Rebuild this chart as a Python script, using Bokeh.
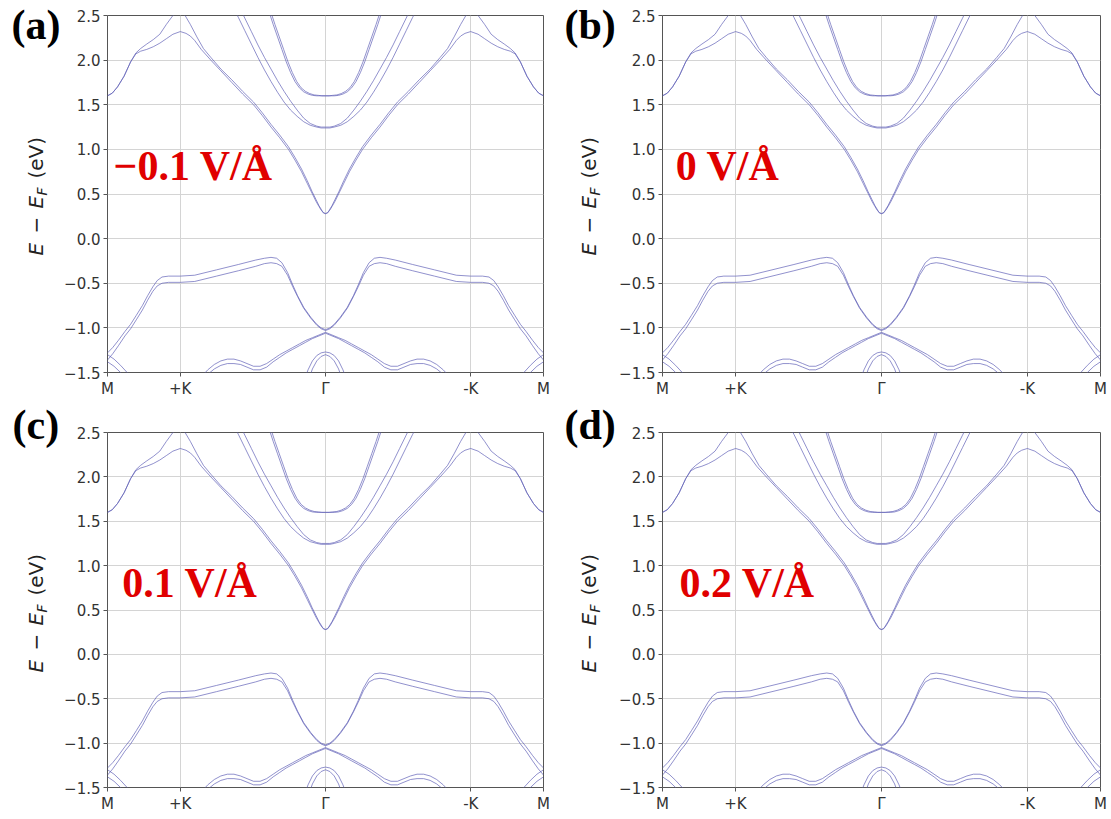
import math
from bokeh.plotting import figure
from bokeh.models import Range1d, FixedTicker, Label, ColumnDataSource
from bokeh.layouts import row, column
from bokeh.embed import file_html
from bokeh.resources import INLINE

# ---------------- data ----------------
K_TICKS = [0.0, 0.1667, 0.5, 0.8333, 1.0]
K_LABELS = ["M", "+K", "Γ", "-K", "M"]
E_TICKS = [-1.5, -1.0, -0.5, 0.0, 0.5, 1.0, 1.5, 2.0, 2.5]
E_LABELS = ["−1.5", "−1.0", "−0.5", "0.0", "0.5", "1.0", "1.5", "2.0", "2.5"]
PANEL_TAGS = ["(a)", "(b)", "(c)", "(d)"]
FIELD_TEXTS = ["−0.1 V/Å", "0 V/Å", "0.1 V/Å", "0.2 V/Å"]
FIELD_TEXT_K = [0.014, 0.03, 0.034, 0.039]
FIELD_TEXT_E = [0.62, 0.62, 0.62, 0.62]

# Bands, half path M -> Γ (k in units of the whole M..M path); the
# pictured bands are mirror images about Γ, so the right half is k -> 1-k.
C1_LO_K = [0, 0.011, 0.023, 0.038, 0.053, 0.065, 0.076, 0.09, 0.105, 0.12, 0.135, 0.15, 0.167, 0.18, 0.19, 0.2, 0.215, 0.237, 0.26, 0.285, 0.31, 0.335, 0.355, 0.375, 0.395, 0.415, 0.43, 0.445, 0.458, 0.469, 0.478, 0.485, 0.49, 0.495, 0.5]
C1_LO_E = [1.60, 1.63, 1.70, 1.82, 1.98, 2.07, 2.10, 2.12, 2.15, 2.19, 2.24, 2.29, 2.32, 2.30, 2.27, 2.22, 2.12, 2.00, 1.88, 1.75, 1.62, 1.50, 1.38, 1.25, 1.13, 1.00, 0.88, 0.75, 0.62, 0.51, 0.42, 0.36, 0.32, 0.29, 0.28]

C1_HI_K = [0, 0.011, 0.023, 0.038, 0.053, 0.065, 0.076, 0.09, 0.105, 0.12, 0.135, 0.15, 0.165, 0.178, 0.19, 0.205, 0.22, 0.237, 0.26, 0.285, 0.31, 0.335, 0.355, 0.375, 0.395, 0.415, 0.43, 0.445, 0.458, 0.469, 0.478, 0.485, 0.49, 0.495, 0.5]
C1_HI_E = [1.60, 1.63, 1.70, 1.82, 1.98, 2.08, 2.13, 2.18, 2.23, 2.29, 2.40, 2.50, 2.56, 2.50, 2.40, 2.26, 2.13, 2.03, 1.90, 1.78, 1.65, 1.53, 1.41, 1.28, 1.16, 1.03, 0.91, 0.78, 0.65, 0.53, 0.44, 0.37, 0.33, 0.29, 0.28]

C2_LO_K = [0.285, 0.3, 0.315, 0.33, 0.345, 0.36, 0.375, 0.39, 0.405, 0.42, 0.435, 0.45, 0.465, 0.48, 0.49, 0.5]
C2_LO_E = [2.62, 2.48, 2.33, 2.18, 2.03, 1.89, 1.76, 1.64, 1.53, 1.44, 1.37, 1.31, 1.27, 1.25, 1.24, 1.24]

C2_HI_K = [0.3, 0.315, 0.33, 0.345, 0.36, 0.375, 0.39, 0.405, 0.42, 0.435, 0.45, 0.465, 0.48, 0.49, 0.5]
C2_HI_E = [2.62, 2.47, 2.32, 2.17, 2.03, 1.90, 1.77, 1.65, 1.54, 1.44, 1.35, 1.29, 1.26, 1.25, 1.25]

C3_A_K = [0.368, 0.38, 0.39, 0.40, 0.41, 0.42, 0.43, 0.44, 0.45, 0.46, 0.47, 0.48, 0.49, 0.5]
C3_A_E = [2.58, 2.40, 2.26, 2.12, 1.98, 1.86, 1.76, 1.69, 1.645, 1.62, 1.605, 1.60, 1.60, 1.60]

C3_B_K = [0.372, 0.384, 0.394, 0.404, 0.414, 0.424, 0.434, 0.444, 0.454, 0.464, 0.474, 0.484, 0.492, 0.5]
C3_B_E = [2.58, 2.40, 2.26, 2.12, 1.98, 1.86, 1.76, 1.69, 1.65, 1.625, 1.61, 1.605, 1.60, 1.60]

V1_HI_K = [0, 0.012, 0.025, 0.04, 0.053, 0.066, 0.08, 0.092, 0.104, 0.114, 0.125, 0.14, 0.167, 0.2, 0.25, 0.3, 0.34, 0.36, 0.375, 0.388, 0.4, 0.413, 0.425, 0.436, 0.45, 0.466, 0.48, 0.49, 0.5]
V1_HI_E = [-1.28, -1.22, -1.14, -1.04, -0.96, -0.86, -0.75, -0.64, -0.54, -0.47, -0.43, -0.42, -0.42, -0.41, -0.35, -0.29, -0.24, -0.22, -0.21, -0.22, -0.27, -0.38, -0.52, -0.64, -0.77, -0.88, -0.96, -1.0, -1.02]

V1_LO_K = [0, 0.012, 0.025, 0.04, 0.053, 0.066, 0.08, 0.092, 0.104, 0.114, 0.125, 0.14, 0.167, 0.2, 0.25, 0.3, 0.34, 0.36, 0.375, 0.388, 0.4, 0.413, 0.425, 0.436, 0.45, 0.466, 0.48, 0.49, 0.5]
V1_LO_E = [-1.36, -1.29, -1.20, -1.09, -1.01, -0.91, -0.80, -0.69, -0.59, -0.53, -0.50, -0.49, -0.49, -0.48, -0.42, -0.36, -0.31, -0.28, -0.27, -0.28, -0.31, -0.41, -0.54, -0.65, -0.78, -0.89, -0.97, -1.01, -1.03]

V2_HI_K = [0.2, 0.215, 0.23, 0.245, 0.26, 0.275, 0.29, 0.305, 0.32, 0.335, 0.35, 0.365, 0.38, 0.395, 0.41, 0.425, 0.44, 0.455, 0.47, 0.485, 0.5]
V2_HI_E = [-1.62, -1.55, -1.47, -1.41, -1.37, -1.35, -1.35, -1.37, -1.40, -1.43, -1.43, -1.40, -1.35, -1.30, -1.26, -1.22, -1.18, -1.14, -1.11, -1.08, -1.05]

V2_LO_K = [0.2, 0.215, 0.23, 0.245, 0.26, 0.275, 0.29, 0.305, 0.32, 0.335, 0.35, 0.365, 0.38, 0.395, 0.41, 0.425, 0.44, 0.455, 0.47, 0.485, 0.5]
V2_LO_E = [-1.67, -1.60, -1.52, -1.46, -1.42, -1.40, -1.40, -1.41, -1.44, -1.47, -1.47, -1.44, -1.38, -1.33, -1.28, -1.24, -1.20, -1.16, -1.12, -1.09, -1.06]

V3_OUT_K = [0.45, 0.46, 0.47, 0.48, 0.49, 0.5]
V3_OUT_E = [-1.60, -1.47, -1.37, -1.31, -1.28, -1.27]

V3_IN_K = [0.46, 0.47, 0.48, 0.49, 0.5]
V3_IN_E = [-1.60, -1.46, -1.37, -1.32, -1.30]

V4_A_K = [0, 0.015, 0.03, 0.045, 0.06]
V4_A_E = [-1.30, -1.35, -1.42, -1.50, -1.58]

V4_B_K = [0, 0.015, 0.03, 0.04]
V4_B_E = [-1.38, -1.43, -1.50, -1.56]

BANDS = [
    (C1_LO_K, C1_LO_E), (C1_HI_K, C1_HI_E),
    (C2_LO_K, C2_LO_E), (C2_HI_K, C2_HI_E),
    (C3_A_K, C3_A_E), (C3_B_K, C3_B_E),
    (V1_HI_K, V1_HI_E), (V1_LO_K, V1_LO_E),
    (V2_HI_K, V2_HI_E), (V2_LO_K, V2_LO_E),
    (V3_OUT_K, V3_OUT_E), (V3_IN_K, V3_IN_E),
    (V4_A_K, V4_A_E), (V4_B_K, V4_B_E),
]

# ---------------- styling / layout constants ----------------
LINE_COLOR = "#6262b8"
SERIF = "Liberation Serif"
SANS = "DejaVu Sans"
BASE_FIX = 0.4   # Bokeh draws an "alphabetic" baseline ~0.4em low; compensate

# plot panels: frame_w, frame_h, border left, right, top, bottom
PANELS = [
    (436, 357, 46, 8, 15, 28),
    (438, 357, 44, 10, 15, 28),
    (436, 355, 46, 8, 32, 30),
    (438, 355, 44, 10, 32, 30),
]
STRIP_H = 817
STRIP_W = [61, 65]
# per panel: which strip, tag (left x, baseline y), y label (baseline x, start y)
# coordinates are px inside the full-height strip
TAG_POS = [(11, 41), (13, 41), (12, 441), (13, 441)]
YLAB_POS = [(43, 255), (45, 255), (43, 672), (45, 672)]


def band_source():
    xs, ys = [], []
    for ks, es in BANDS:
        assert len(ks) == len(es)
        xs.append(list(ks))
        ys.append(list(es))
        xs.append([1.0 - k for k in ks])
        ys.append(list(es))
    return ColumnDataSource(dict(xs=xs, ys=ys))


def make_panel(i):
    fw, fh, bl, br, bt, bb = PANELS[i]
    p = figure(frame_width=fw, frame_height=fh, title=None,
               x_range=Range1d(0, 1), y_range=Range1d(-1.5, 2.5),
               output_backend="svg", toolbar_location=None, tools="",
               min_border_left=bl, min_border_right=br,
               min_border_top=bt, min_border_bottom=bb)
    p.background_fill_color = "white"
    p.border_fill_color = "white"
    p.outline_line_color = "#555555"
    p.outline_line_width = 1

    p.xaxis.ticker = FixedTicker(ticks=K_TICKS)
    p.xaxis.major_label_overrides = {k: lab for k, lab in zip(K_TICKS, K_LABELS)}
    p.yaxis.ticker = FixedTicker(ticks=E_TICKS)
    p.yaxis.major_label_overrides = {e: lab for e, lab in zip(E_TICKS, E_LABELS)}
    for ax in (p.xaxis, p.yaxis):
        ax.axis_line_color = None
        ax.major_tick_out = 4
        ax.major_tick_in = 0
        ax.minor_tick_line_color = None
        ax.major_tick_line_color = "#555555"
        ax.major_label_text_font = SANS
        ax.major_label_text_font_size = "15px"
        ax.major_label_text_color = "#333333"
    p.xaxis.major_label_standoff = 3
    p.yaxis.major_label_standoff = 3

    p.xgrid.grid_line_color = "#d4d4d4"
    p.ygrid.grid_line_color = "#d4d4d4"

    p.multi_line(xs="xs", ys="ys", source=band_source(),
                 line_color=LINE_COLOR, line_width=1, line_alpha=0.7)

    size = 42
    p.add_layout(Label(x=FIELD_TEXT_K[i],
                       y=FIELD_TEXT_E[i] + BASE_FIX * size * 4.0 / fh,
                       text=FIELD_TEXTS[i],
                       text_font=SERIF, text_font_size=f"{size}px",
                       text_font_style="bold", text_color="#e00000",
                       text_align="left", text_baseline="alphabetic"))
    return p


def add_strip_texts(s, i):
    tx, ty = TAG_POS[i]
    tsize = 42
    s.add_layout(Label(x=tx, y=ty - BASE_FIX * tsize, text=PANEL_TAGS[i],
                       text_font=SERIF, text_font_size=f"{tsize}px",
                       text_font_style="bold", text_color="black",
                       text_align="left", text_baseline="alphabetic"))
    # composite y label "E − E_F (eV)", rotated, reading upward
    bx, y0 = YLAB_POS[i]
    pieces = [
        ("E", 0, 20, "italic", 0),
        ("−", 22, 20, "normal", 0),
        ("E", 47, 20, "italic", 0),
        ("F", 60, 14, "italic", 4),
        ("(eV)", 77, 20, "normal", 0),
    ]
    for txt, off, size, style, sub in pieces:
        s.add_layout(Label(x=bx + sub - BASE_FIX * size, y=y0 - off, text=txt,
                           angle=math.pi / 2, angle_units="rad",
                           text_font=SANS, text_font_size=f"{size}px",
                           text_font_style=style, text_color="#222222",
                           text_align="left", text_baseline="alphabetic"))


def make_strip(j, members):
    w = STRIP_W[j]
    s = figure(frame_width=w, frame_height=STRIP_H, title=None,
               x_range=Range1d(0, w), y_range=Range1d(STRIP_H, 0),
               output_backend="svg", toolbar_location=None, tools="",
               x_axis_location=None, y_axis_location=None,
               min_border=0)
    s.outline_line_color = None
    s.background_fill_color = "white"
    s.border_fill_color = "white"
    s.grid.grid_line_color = None
    for i in members:
        add_strip_texts(s, i)
    return s


panels = [make_panel(i) for i in range(4)]
left_strip = make_strip(0, [0, 2])
mid_strip = make_strip(1, [1, 3])
layout = row(left_strip, column(panels[0], panels[2]),
             mid_strip, column(panels[1], panels[3]))

open("out.html", "w").write(file_html(layout, INLINE))
